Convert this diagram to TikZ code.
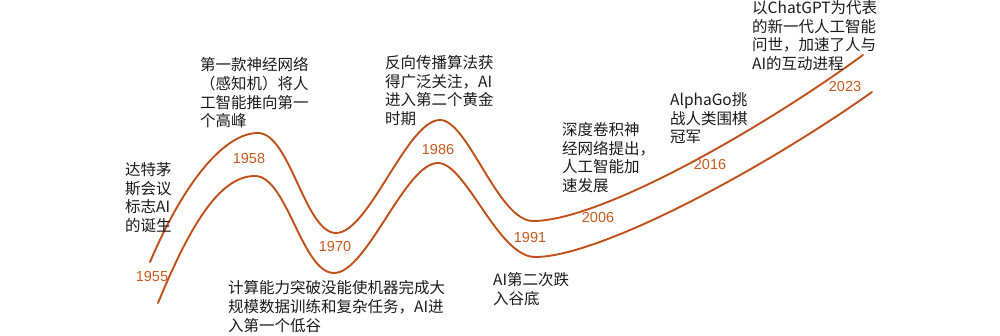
\documentclass[tikz,border=0pt]{standalone}
\usepackage{fontspec}
\setmainfont{Noto Sans CJK SC}
\newfontfamily\yearfont{Liberation Sans}
\usetikzlibrary{positioning}
\definecolor{wavered}{HTML}{C0501A}
\definecolor{yearorange}{HTML}{C65A1C}
\definecolor{txtdark}{HTML}{1A1A1A}
\tikzset{
  wave/.style={draw=wavered,line width=1.9pt,line cap=round},
  event/.style={anchor=north west,inner sep=0pt,align=left,text=txtdark,
    font=\fontsize{15.5}{18.6}\selectfont},
  year/.style={inner sep=0pt,text=yearorange,font=\yearfont\fontsize{14.5}{16}\selectfont},
}

\begin{document}
\begin{tikzpicture}[x=1pt,y=-1pt]
\useasboundingbox (0,0) rectangle (1000,336);
% ---- the two waves ----
\draw[wave] (150,262) .. controls (185,180) and (225,133) .. (258,133)
  .. controls (290,133) and (305,233) .. (336,233)
  .. controls (369,233) and (407,120) .. (440,120)
  .. controls (468,120) and (498,221) .. (533,221)
  .. controls (600,221) and (760,130) .. (863,55);
\draw[wave] (158,303) .. controls (193,218) and (222,176) .. (255,176)
  .. controls (287,176) and (302,273) .. (334,273)
  .. controls (367,273) and (405,163) .. (438,163)
  .. controls (466,163) and (498,257) .. (535,257)
  .. controls (600,257) and (765,168) .. (872,92);

% ---- years ----
\node[year] (y1955) at (152,277) {1955};
\node[year] (y1958) at (249,159) {1958};
\node[year] (y1970) at (335,247) {1970};
\node[year] (y1986) at (438,150) {1986};
\node[year] (y1991) at (530,238) {1991};
\node[year] (y2006) at (598,218) {2006};
\node[year] (y2016) at (710,165) {2016};
\node[year] (y2023) at (845,87) {2023};

% ---- events ----
\node[event] (dartmouth) at (125,162.5) {达特茅\\斯会议\\标志AI\\的诞生};
\node[event] (perceptron) at (200,57.5) {第一款神经网络\\（感知机）将人\\工智能推向第一\\个高峰};
\node[event] (winter1) at (228,280.5) {计算能力突破没能使机器完成大\\规模数据训练和复杂任务，AI进\\入第一个低谷};
\node[event] (backprop) at (385,55.5) {反向传播算法获\\得广泛关注，AI\\进入第二个黄金\\时期};
\node[event] (winter2) at (493,272.5) {AI第二次跌\\入谷底};
\node[event] (deepcnn) at (562,122.5) {深度卷积神\\经网络提出，\\人工智能加\\速发展};
\node[event] (alphago) at (670,92.5) {AlphaGo挑\\战人类围棋\\冠军};
\node[event] (chatgpt) at (752,0.5) {以ChatGPT为代表\\的新一代人工智能\\问世，加速了人与\\AI的互动进程};
\end{tikzpicture}
\end{document}
